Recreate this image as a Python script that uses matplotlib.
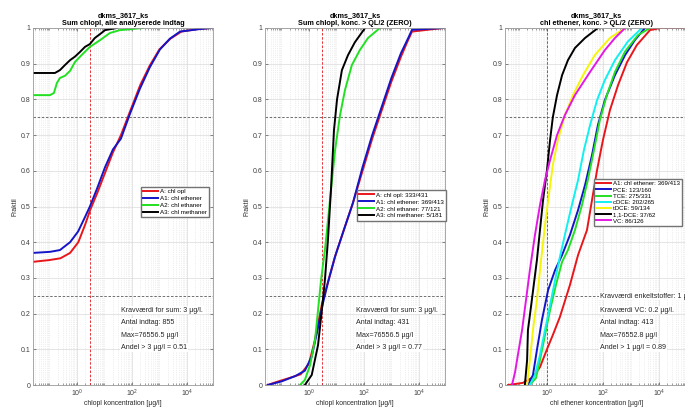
import numpy as np
import matplotlib
matplotlib.use("Agg")
import matplotlib.pyplot as plt
from matplotlib.ticker import LogLocator, NullFormatter, FormatStrFormatter

plt.rcParams['font.family'] = ['Liberation Sans', 'DejaVu Sans']

# ---- data (concentration in ug/l, fraktil) ----
# panel 1: all analysed samples
p1_red_x = [0.0251, 0.1, 0.251, 0.562, 1.12, 2.0, 3.02, 5.62, 10, 20, 39.8, 89.1, 200, 447, 1000, 2512, 6310, 25119, 76556]
p1_red_f = [0.345, 0.35, 0.355, 0.37, 0.40, 0.45, 0.49, 0.54, 0.59, 0.65, 0.70, 0.77, 0.84, 0.895, 0.94, 0.97, 0.99, 0.997, 1.0]
p1_blue_x = [0.0251, 0.105, 0.24, 0.562, 1.10, 1.95, 2.95, 5.37, 10.5, 20.4, 39.8, 85.1, 195, 447, 1047, 2399, 5623, 29512, 76556]
p1_blue_f = [0.37, 0.373, 0.378, 0.40, 0.43, 0.47, 0.50, 0.55, 0.61, 0.66, 0.69, 0.76, 0.83, 0.89, 0.94, 0.97, 0.99, 0.997, 1.0]
p1_green_x = [0.0251, 0.105, 0.145, 0.186, 0.24, 0.363, 0.562, 0.851, 1.51, 2.95, 6.92, 15.8, 36.3, 251]
p1_green_f = [0.812, 0.812, 0.818, 0.846, 0.86, 0.866, 0.88, 0.905, 0.925, 0.947, 0.966, 0.986, 0.994, 1.0]
p1_black_x = [0.0251, 0.158, 0.24, 0.363, 0.562, 0.851, 1.29, 1.95, 2.95, 4.47, 6.92, 10.5, 28.2]
p1_black_f = [0.874, 0.874, 0.882, 0.896, 0.91, 0.92, 0.933, 0.947, 0.955, 0.972, 0.983, 0.994, 1.0]

# panel 2: concentrations > QL/2
p2_red_x = [0.0316, 0.0631, 0.2, 0.501, 1, 1.58, 2.24, 3.02, 5.01, 8.91, 17.8, 39.8, 89.1, 200, 447, 1000, 2239, 3981, 5623, 76556]
p2_red_f = [0, 0.008, 0.02, 0.03, 0.06, 0.12, 0.18, 0.23, 0.29, 0.36, 0.43, 0.51, 0.60, 0.69, 0.77, 0.85, 0.92, 0.965, 0.99, 1.0]
p2_blue_x = [0.0316, 0.1, 0.316, 0.708, 1.26, 2.0, 3.02, 5.01, 8.91, 17.8, 39.8, 89.1, 200, 447, 1000, 2239, 3981, 5623, 76556]
p2_blue_f = [0, 0.01, 0.025, 0.04, 0.08, 0.15, 0.22, 0.29, 0.36, 0.43, 0.51, 0.61, 0.70, 0.78, 0.86, 0.93, 0.97, 0.995, 1.0]
p2_green_x = [0.468, 0.708, 1.10, 1.66, 2.14, 2.75, 3.80, 4.90, 6.31, 8.91, 13.5, 20.4, 36.3, 70.8, 141, 380]
p2_green_f = [0, 0.014, 0.056, 0.126, 0.21, 0.294, 0.378, 0.46, 0.546, 0.658, 0.756, 0.826, 0.896, 0.938, 0.972, 1.0]
p2_black_x = [0.708, 1.26, 2.14, 2.95, 3.80, 4.90, 6.31, 8.13, 10.5, 15.8, 26.3, 46.8, 110]
p2_black_f = [0, 0.028, 0.112, 0.21, 0.294, 0.406, 0.546, 0.714, 0.8, 0.882, 0.924, 0.96, 1.0]

# panel 3: chl ethener, single compounds
p3_a1_x = [0.0407, 0.138, 0.316, 0.562, 1, 1.62, 2.88, 6.61, 12.9, 26.9, 40.7, 61.7, 100, 178, 347, 724, 1622, 4786, 10965, 76552.8]
p3_a1_f = [0, 0.006, 0.022, 0.05, 0.10, 0.14, 0.19, 0.28, 0.364, 0.434, 0.518, 0.602, 0.686, 0.77, 0.84, 0.904, 0.952, 0.994, 1.0, 1.0]
p3_pce_x = [0.209, 0.316, 0.437, 0.661, 1.10, 1.95, 3.47, 6.61, 12.9, 22.9, 40.7, 66.1, 117, 269, 617, 1380, 3162]
p3_pce_f = [0, 0.028, 0.098, 0.182, 0.266, 0.322, 0.364, 0.42, 0.49, 0.56, 0.644, 0.728, 0.798, 0.868, 0.924, 0.966, 1.0]
p3_tce_x = [0.245, 0.407, 0.562, 0.851, 1.29, 2.09, 3.47, 5.62, 10, 17.8, 28.8, 47.9, 77.6, 138, 269, 617, 1778, 4786]
p3_tce_f = [0, 0.02, 0.07, 0.14, 0.21, 0.28, 0.345, 0.378, 0.434, 0.504, 0.574, 0.658, 0.742, 0.812, 0.877, 0.934, 0.98, 1.0]
p3_cdce_x = [0.245, 0.372, 0.562, 0.851, 1.29, 1.95, 2.88, 4.79, 7.76, 12.9, 20.9, 34.7, 61.7, 117, 269, 776, 2455]
p3_cdce_f = [0, 0.028, 0.084, 0.154, 0.224, 0.294, 0.358, 0.434, 0.504, 0.574, 0.658, 0.728, 0.798, 0.854, 0.91, 0.962, 1.0]
p3_tdce_x = [0.195, 0.245, 0.316, 0.437, 0.617, 0.851, 1.17, 1.62, 2.45, 4.37, 8.51, 19.5, 51.3, 178, 617]
p3_tdce_f = [0, 0.07, 0.154, 0.238, 0.35, 0.448, 0.532, 0.616, 0.686, 0.756, 0.812, 0.868, 0.924, 0.972, 1.0]
p3_11dce_x = [0.162, 0.195, 0.209, 0.288, 0.437, 0.562, 0.724, 1, 1.29, 1.62, 2.29, 3.47, 5.62, 10, 22.9, 66.1]
p3_11dce_f = [0, 0.07, 0.154, 0.238, 0.35, 0.434, 0.518, 0.602, 0.686, 0.75, 0.812, 0.868, 0.91, 0.944, 0.972, 1.0]
p3_vc_x = [0.0562, 0.0724, 0.0912, 0.129, 0.178, 0.245, 0.372, 0.562, 0.851, 1.29, 2.29, 4.37, 10, 34.7, 117, 269, 617]
p3_vc_f = [0, 0.036, 0.084, 0.154, 0.238, 0.322, 0.42, 0.504, 0.574, 0.63, 0.70, 0.756, 0.812, 0.877, 0.938, 0.972, 1.0]

x_ticks = [1e0, 1e2, 1e4]
p1_labels = ['A: chl opl', 'A1: chl ethener', 'A2: chl ethaner', 'A3: chl methaner']
p2_labels = ['A: chl opl: 333/431', 'A1: chl ethener: 369/413', 'A2: chl ethaner: 77/121', 'A3: chl methaner: 5/181']
p3_labels = ['A1: chl ethener: 369/413', 'PCE: 123/160', 'TCE: 275/331', 'cDCE: 202/265',
             'tDCE: 59/134', '1,1-DCE: 37/62', 'VC: 86/126']

p1_text = ['Kravværdi for sum: 3 µg/l.', 'Antal indtag: 855', 'Max=76556.5 µg/l', 'Andel > 3 µg/l = 0.51']
p2_text = ['Kravværdi for sum: 3 µg/l.', 'Antal indtag: 431', 'Max=76556.5 µg/l', 'Andel > 3 µg/l = 0.77']
p3_text = ['Kravværdi enkeltstoffer: 1 µg/l.', 'Kravværdi VC: 0.2 µg/l.', 'Antal indtag: 413',
           'Max=76552.8 µg/l', 'Andel > 1 µg/l = 0.89']

RED, BLUE, GREEN, BLACK = '#e8161b', '#1414c8', '#22e022', 'black'
CYAN, YELLOW, MAGENTA = '#10f0f0', '#f5f50a', '#e418e4'
LW = 1.4


def style_axes(ax, xlim, xlabel, title):
    ax.set_xscale('log')
    ax.set_xlim(xlim)
    ax.set_ylim(0, 1)
    ax.set_xticks(x_ticks)
    ax.xaxis.set_minor_locator(LogLocator(base=10, subs=np.arange(1, 10), numticks=30))
    ax.xaxis.set_minor_formatter(NullFormatter())
    ax.set_yticks(np.arange(0, 1.01, 0.1))
    ax.yaxis.set_major_formatter(FormatStrFormatter('%g'))
    ax.grid(which='major', color='0.86', lw=0.5, ls='-')
    ax.grid(which='minor', axis='x', color='0.88', lw=0.5, ls=':')
    ax.set_axisbelow(True)
    ax.tick_params(which='both', direction='in', labelsize=5, colors='0.35',
                   labelcolor='0.25', top=True, right=True, pad=2)
    ax.tick_params(which='major', length=2.5, width=0.5)
    ax.tick_params(which='minor', length=1.3, width=0.4)
    for s in ax.spines.values():
        s.set_color('0.6')
        s.set_linewidth(0.6)
    ax.set_xlabel(xlabel, fontsize=4.9, labelpad=0.5, color='0.15')
    ax.set_ylabel('Fraktil', fontsize=4.9, labelpad=1, color='0.15')
    ax.set_title(title, fontsize=5.2, fontweight='bold', pad=2.5, linespacing=1.15)
    ax.axhline(0.25, color='0.35', ls='--', lw=0.6, dashes=(3, 2))
    ax.axhline(0.75, color='0.35', ls='--', lw=0.6, dashes=(3, 2))


def add_text(ax, x, lines, ys):
    for s, y in zip(lines, ys):
        ax.text(x, y, s, transform=ax.transAxes, fontsize=5.1, va='center', ha='left',
                color='0.15', bbox=dict(facecolor='white', edgecolor='none', pad=0.6))


fig = plt.figure(figsize=(6.85, 4.08), dpi=100)
bottom, height = 23 / 408, 357 / 408
ax1 = fig.add_axes([33 / 685, bottom, 180 / 685, height])
ax2 = fig.add_axes([265 / 685, bottom, 180 / 685, height])
ax3 = fig.add_axes([505 / 685, bottom, 183 / 685, height])

leg_kw = dict(loc='upper left', frameon=True, fancybox=False, edgecolor='0.45', framealpha=1,
              borderaxespad=0, handlelength=2.4, labelspacing=0.25, borderpad=0.35,
              handletextpad=0.35)

# panel 1
style_axes(ax1, (10 ** -1.6, 10 ** 4.95), 'chlopl koncentration [µg/l]',
           'dkms_3617_ks\nSum chlopl, alle analyserede indtag')
ax1.axvline(3, color=RED, ls='--', lw=0.6, dashes=(3, 2))
h = []
h += ax1.plot(p1_red_x, p1_red_f, color=RED, lw=LW)
h += ax1.plot(p1_blue_x, p1_blue_f, color=BLUE, lw=LW)
h += ax1.plot(p1_green_x, p1_green_f, color=GREEN, lw=LW)
h += ax1.plot(p1_black_x, p1_black_f, color=BLACK, lw=LW)
ax1.legend(h, p1_labels, bbox_to_anchor=(0.6, 0.555), fontsize=4.5, **leg_kw)
add_text(ax1, 0.489, p1_text, [0.21, 0.176, 0.14, 0.106])

# panel 2
style_axes(ax2, (10 ** -1.6, 10 ** 4.95), 'chlopl koncentration [µg/l]',
           'dkms_3617_ks\nSum chlopl, konc. > QL/2 (ZERO)')
ax2.axvline(3, color=RED, ls='--', lw=0.6, dashes=(3, 2))
h = []
h += ax2.plot(p2_red_x, p2_red_f, color=RED, lw=LW)
h += ax2.plot(p2_blue_x, p2_blue_f, color=BLUE, lw=LW)
h += ax2.plot(p2_green_x, p2_green_f, color=GREEN, lw=LW)
h += ax2.plot(p2_black_x, p2_black_f, color=BLACK, lw=LW)
ax2.legend(h, p2_labels, bbox_to_anchor=(0.511, 0.546), fontsize=4.5, **leg_kw)
add_text(ax2, 0.506, p2_text, [0.21, 0.176, 0.14, 0.106])

# panel 3
style_axes(ax3, (10 ** -1.5, 10 ** 5.04), 'chl ethener koncentration [µg/l]',
           'dkms_3617_ks\nchl ethener, konc. > QL/2 (ZERO)')
ax3.axvline(1, color=RED, ls='--', lw=0.6, dashes=(3, 2))
h = []
h += ax3.plot(p3_a1_x, p3_a1_f, color=RED, lw=LW)
h += ax3.plot(p3_pce_x, p3_pce_f, color=BLUE, lw=LW)
h += ax3.plot(p3_tce_x, p3_tce_f, color=GREEN, lw=LW)
h += ax3.plot(p3_cdce_x, p3_cdce_f, color=CYAN, lw=LW)
h += ax3.plot(p3_tdce_x, p3_tdce_f, color=YELLOW, lw=LW)
h += ax3.plot(p3_11dce_x, p3_11dce_f, color=BLACK, lw=LW)
h += ax3.plot(p3_vc_x, p3_vc_f, color=MAGENTA, lw=LW)
ax3.legend(h, p3_labels, bbox_to_anchor=(0.486, 0.577), fontsize=4.4,
           **dict(leg_kw, labelspacing=0.15))
add_text(ax3, 0.52, p3_text, [0.249, 0.21, 0.176, 0.14, 0.106])

fig.savefig('out.png', dpi=100)
